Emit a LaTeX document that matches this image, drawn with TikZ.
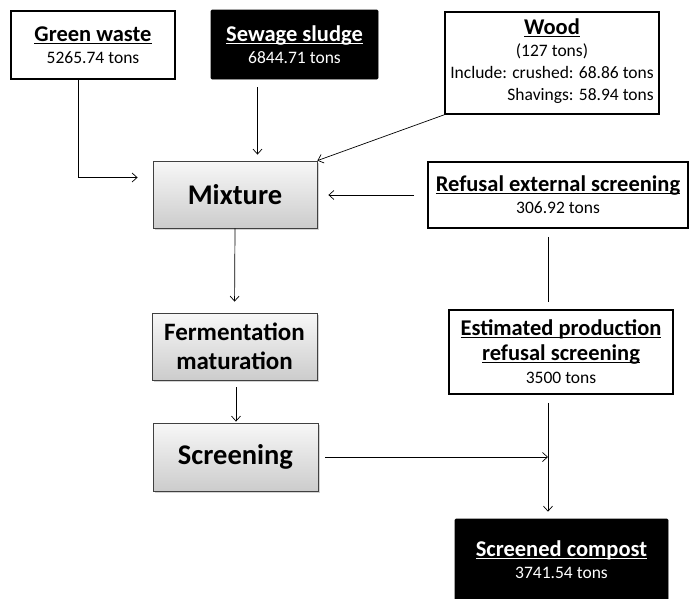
\documentclass[tikz,border=0pt]{standalone}
\usepackage{fontspec}
\setmainfont{Carlito}
\usetikzlibrary{arrows.meta,shadows}

\newcommand\headul[1]{\setbox0\hbox{#1}\rlap{\rule[-2.6pt]{\wd0}{1.3pt}}\box0}
\newcommand\headtxt[1]{{\fontsize{22.5}{25}\selectfont\bfseries\headul{#1}}}

\tikzset{
  inbox/.style={draw=black,line width=1.6pt,fill=white,align=center,inner sep=2pt,
    font=\fontsize{17.5}{21}\selectfont},
  darkbox/.style={inbox,fill=black,text=white,rounded corners=1pt,line width=0.6pt},
  procbox/.style={draw=black!75,line width=0.8pt,top color=gray!6,bottom color=gray!40,
    drop shadow={shadow xshift=1.5pt,shadow yshift=-1.5pt,opacity=0.35},
    font=\fontsize{28.5}{31}\selectfont\bfseries,align=center},
}

\begin{document}
\begin{tikzpicture}[x=1pt,y=-1pt,>={Straight Barb[length=5pt,width=9pt]},line width=0.7pt]
\useasboundingbox (0,0) rectangle (689,598);

% inputs
\node[inbox,minimum width=164pt,minimum height=68pt] (green) at (93,45)
  {\headtxt{Green waste}\\[1pt]5265.74 tons};
\node[darkbox,minimum width=167pt,minimum height=69pt] (sludge) at (294.5,44.5)
  {\headtxt{Sewage sludge}\\[1pt]6844.71 tons};
\node[inbox,minimum width=214pt,minimum height=102pt] (wood) at (552,63)
  {\renewcommand\arraystretch{1.05}\begin{tabular}{@{}r@{}}
   \multicolumn{1}{@{}c@{}}{\headtxt{Wood}}\\
   \multicolumn{1}{@{}c@{}}{(127 tons)}\\
   Include: crushed: 68.86 tons\\
   Shavings: 58.94 tons
   \end{tabular}};
\node[inbox,minimum width=260pt,minimum height=66pt] (refusal) at (558,195)
  {\headtxt{Refusal external screening}\\[1pt]306.92 tons};
\node[inbox,minimum width=224pt,minimum height=84pt] (est) at (561,352)
  {\headtxt{Estimated production}\\[4pt]\headtxt{refusal screening}\\[2pt]3500 tons};
\node[darkbox,minimum width=213pt,minimum height=81pt] (compost) at (561.5,559.5)
  {\headtxt{Screened compost}\\[1pt]3741.54 tons};

% process
\node[procbox,minimum width=164pt,minimum height=67pt] (mix) at (235,194.5) {Mixture};
\node[procbox,minimum width=165pt,minimum height=67pt,
  font=\fontsize{25}{29}\selectfont\bfseries] (ferment) at (234.5,346.5) {Fermentation\\maturation};
\node[procbox,minimum width=165pt,minimum height=68pt] (screen) at (235.5,457) {Screening};

\coordinate (join) at ([xshift=-13pt]est.south);

\draw[->,shorten >=15pt] ([xshift=-15pt]green.south) |- ([yshift=17pt]mix.west);
\draw[->,shorten <=8pt,shorten >=6pt] ([xshift=-37pt]sludge.south) -- ([xshift=-37pt]sludge.south |- mix.north);
\draw[->] (wood.south west) -- (mix.north east);
\draw[->,shorten <=13pt,shorten >=11pt] (refusal.west) -- (refusal.west -| mix.east);
\draw[shorten <=8pt,shorten >=7pt] ([xshift=-10pt]refusal.south) -- ([xshift=-10pt]refusal.south |- est.north);
\draw[->,shorten <=8pt,shorten >=7pt] (join) -- (join |- compost.north);
\draw[->,shorten <=7pt] (screen.east) -- (screen.east -| join);
\draw[->,shorten >=11pt] (mix.south) -- (ferment.north);
\draw[->,shorten <=7pt,shorten >=1pt] ([xshift=1.5pt]ferment.south) -- ([xshift=1.5pt]ferment.south |- screen.north);
\end{tikzpicture}
\end{document}
